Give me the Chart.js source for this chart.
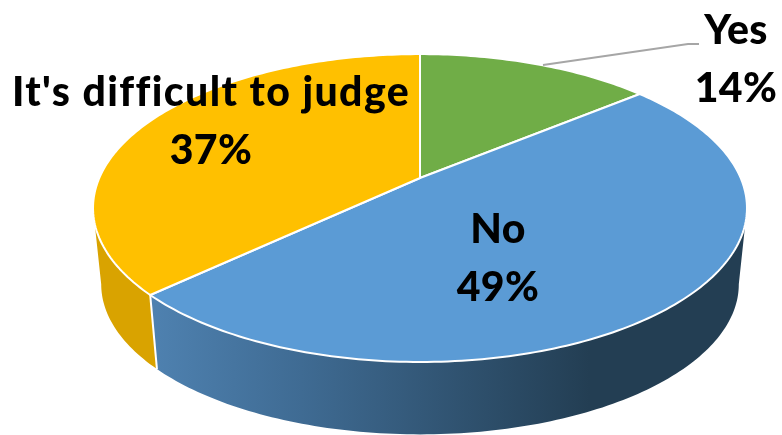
<!DOCTYPE html>
<html>
<head>
<meta charset="utf-8">
<style>
  html, body { margin: 0; padding: 0; background: #fff; overflow: hidden; }
  canvas { display: block; }
</style>
<script src="https://cdn.jsdelivr.net/npm/chart.js@4/dist/chart.umd.js"></script>
</head>
<body>
<canvas id="pie" width="782" height="435"></canvas>
<script>
const labels = ["Yes", "No", "It's difficult to judge"];
const values = [14, 49, 37];

const topColors = ["#70ad47", "#5b9bd5", "#ffc000"];

// perspective disc: apex position, radii and foreshortening
const disc = { cx: 420, cy: 178, rx: 320.7, ry: 148.1, k: 0.195 };
const wallDrop = 77, baseScale = 0.975;
const STEP = Math.PI / 180;

// where each data label sits, in slice order
const labelSpots = [
    { x: 736, y: 31, spacing: "0.4px" },
    { x: 498, y: 230, spacing: "0.4px" },
    { x: 211, y: 93, spacing: "1.4px" }
];

function project(angle, drop, scale) {
    const u = Math.cos(angle), v = Math.sin(angle);
    const w = 1 - disc.k * v;
    return {
        x: disc.cx + disc.rx * scale * u / w,
        y: disc.cy + drop + disc.ry * scale * v / w
    };
}

function traceRim(ctx, from, to, drop, scale, first) {
    const n = Math.max(2, Math.ceil(Math.abs(to - from) / STEP));
    for (let i = 0; i <= n; i++) {
        const p = project(from + (to - from) * i / n, drop, scale);
        if (i === 0 && first) ctx.moveTo(p.x, p.y);
        else ctx.lineTo(p.x, p.y);
    }
}

function wallFill(ctx, i) {
    if (i === 1) {
        const g = ctx.createLinearGradient(146, 0, 590, 0);
        g.addColorStop(0, "#4f82b1");
        g.addColorStop(0.35, "#3f6b93");
        g.addColorStop(1, "#233e53");
        return g;
    }
    return i === 2 ? "#d9a300" : "#5a8a39";
}

const pie3d = {
    id: "pie3d",
    beforeDatasetDraw(chart) {
        const ctx = chart.ctx;
        const arcs = chart.getDatasetMeta(0).data;
        // the rim is widest at this angle, walls stop there
        const edge = Math.asin(disc.k);
        ctx.save();
        ctx.lineJoin = "round";

        // side walls first, only the part of the rim facing the viewer
        arcs.forEach((arc, i) => {
            const from = Math.max(arc.startAngle, edge);
            const to = Math.min(arc.endAngle, Math.PI - edge);
            if (to <= from) return;
            ctx.beginPath();
            traceRim(ctx, from, to, 0, 1, true);
            traceRim(ctx, to, from, wallDrop, baseScale, false);
            ctx.closePath();
            ctx.fillStyle = wallFill(ctx, i);
            ctx.fill();
        });

        // white seam where two walls meet
        arcs.forEach(arc => {
            if (Math.sin(arc.startAngle) <= 0) return;
            const a = project(arc.startAngle, 0, 1);
            const b = project(arc.startAngle, wallDrop, baseScale);
            ctx.beginPath();
            ctx.moveTo(a.x, a.y);
            ctx.lineTo(b.x, b.y);
            ctx.strokeStyle = "#fff";
            ctx.lineWidth = 2;
            ctx.stroke();
        });

        // top face
        arcs.forEach(arc => {
            ctx.beginPath();
            ctx.moveTo(disc.cx, disc.cy);
            traceRim(ctx, arc.startAngle, arc.endAngle, 0, 1, false);
            ctx.closePath();
            ctx.fillStyle = arc.options.backgroundColor;
            ctx.fill();
            ctx.strokeStyle = "#fff";
            ctx.lineWidth = 2;
            ctx.stroke();
        });
        ctx.restore();
        return false;
    },
    afterDatasetsDraw(chart) {
        const ctx = chart.ctx;
        const total = values.reduce((a, b) => a + b, 0);
        ctx.save();

        // leader line for the small slice
        ctx.beginPath();
        ctx.moveTo(543, 65);
        ctx.lineTo(688, 44);
        ctx.lineTo(699, 44);
        ctx.strokeStyle = "#a6a6a6";
        ctx.lineWidth = 2;
        ctx.stroke();

        ctx.fillStyle = "#000";
        ctx.font = "900 41px Lato";
        ctx.textAlign = "center";
        ctx.textBaseline = "middle";
        labels.forEach((name, i) => {
            const spot = labelSpots[i];
            ctx.letterSpacing = spot.spacing;
            ctx.fillText(name, spot.x, spot.y);
            ctx.letterSpacing = "0.4px";
            ctx.fillText(Math.round(values[i] / total * 100) + "%", spot.x, spot.y + 58);
        });
        ctx.restore();
    }
};

new Chart(document.getElementById("pie"), {
    type: "pie",
    data: {
        labels: labels,
        datasets: [{ data: values, backgroundColor: topColors, borderWidth: 0 }]
    },
    options: {
        responsive: false,
        animation: false,
        plugins: { legend: { display: false }, tooltip: { enabled: false } }
    },
    plugins: [pie3d]
});
</script>
</body>
</html>
